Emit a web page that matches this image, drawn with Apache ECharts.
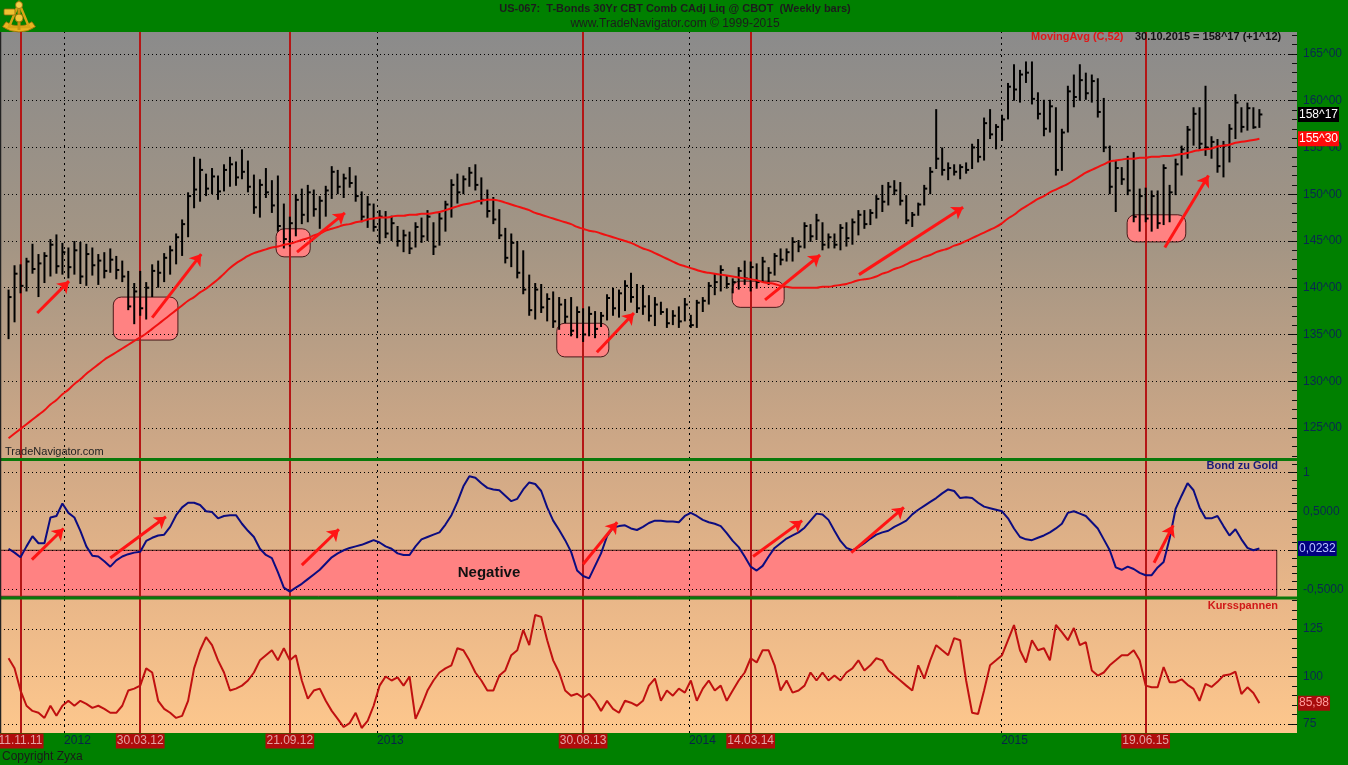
<!DOCTYPE html>
<html><head><meta charset="utf-8">
<script src="https://cdn.jsdelivr.net/npm/echarts@6/dist/echarts.min.js"></script>
<style>html,body{margin:0;padding:0;background:#008000}#c{width:1348px;height:765px}</style>
</head><body><div id="c"></div>
<script>
// ---------------- DATA (weekly bars, first bar Fri 28.10.2011) ----------------
const firstBar = '2011-10-28';
const high = [
139.8,142.4,142.5,143.2,144.7,143.6,143.8,145.2,145.7,144.8,
144.3,145.0,144.9,144.7,144.3,143.6,143.8,144.2,143.4,142.9,
141.8,140.5,141.8,140.6,142.5,142.9,143.7,144.5,145.8,147.3,
150.2,154.0,153.8,152.2,152.8,152.0,153.2,154.0,153.5,154.8,
153.6,152.1,151.6,152.8,151.5,152.0,149.0,147.6,150.0,150.6,
151.0,150.5,149.8,150.9,153.0,152.6,152.2,152.9,152.0,150.3,
149.8,149.0,148.3,148.2,147.7,146.6,146.2,146.0,147.0,147.5,
148.3,147.0,148.0,149.3,151.6,152.2,152.0,152.9,153.2,151.8,
150.5,149.7,148.4,146.4,145.8,145.0,144.0,141.4,140.5,140.4,
139.4,139.6,139.0,138.8,139.0,138.0,137.8,138.0,137.5,137.4,
139.3,140.0,139.8,140.8,141.6,140.4,140.3,139.2,139.0,138.5,
137.8,137.6,138.0,138.9,137.1,138.7,139.0,140.6,141.5,142.4,
141.3,141.0,142.2,142.9,142.8,142.6,143.3,142.2,143.7,144.2,
144.2,145.4,145.1,147.0,146.8,147.9,147.0,145.8,145.8,146.8,
147.0,147.4,148.3,148.3,148.4,149.9,151.0,151.3,151.5,151.3,
149.9,148.1,149.1,151.0,152.9,159.1,155.0,153.4,153.2,153.2,
153.4,155.4,155.9,158.2,159.1,157.5,158.5,161.9,163.9,163.3,
164.2,164.2,160.9,160.1,160.1,159.3,157.0,161.6,162.8,163.9,
163.0,162.8,162.4,160.3,155.2,153.6,152.9,154.1,154.5,150.6,
150.7,150.4,150.4,153.2,151.0,153.8,155.2,157.3,159.3,159.3,
161.6,156.2,155.9,155.7,157.5,160.7,159.3,159.8,159.3,159.1];
const low = [
134.5,136.3,139.4,139.6,141.5,139.0,140.5,141.2,141.5,141.4,
141.0,141.4,140.4,140.2,141.3,140.3,141.0,141.6,140.9,140.6,
137.6,136.1,137.0,136.6,139.0,140.0,140.6,141.4,142.5,143.4,
145.4,148.5,149.2,149.8,150.0,149.4,150.3,150.8,150.9,151.6,
150.2,147.9,147.5,149.6,148.0,146.0,144.2,144.4,145.5,146.8,
147.0,147.6,146.3,147.6,149.5,150.0,149.6,150.7,149.2,147.0,
146.4,146.0,144.7,145.3,145.0,144.4,143.8,143.6,144.3,144.8,
145.0,143.5,144.5,146.0,147.5,149.0,150.0,150.8,150.4,148.9,
147.5,146.8,145.2,142.6,142.2,141.0,139.3,137.0,136.6,137.3,
136.4,135.7,135.5,136.2,134.8,134.6,134.2,134.8,134.6,135.8,
136.5,137.0,136.8,137.5,138.4,137.3,137.1,136.4,135.9,137.1,
135.7,136.0,135.7,136.4,135.7,135.7,137.4,138.2,139.2,139.6,
139.9,139.4,139.8,140.3,139.6,139.9,140.6,140.3,141.3,142.4,
142.8,142.8,143.8,144.2,144.9,145.1,144.0,144.2,144.2,144.0,
144.4,144.6,145.6,146.3,146.7,147.4,148.1,148.8,149.9,148.8,
146.8,146.5,147.7,148.8,150.0,152.7,152.0,151.5,152.0,151.6,
152.2,152.7,153.4,153.6,155.9,154.8,155.7,158.0,160.0,159.8,
161.9,159.6,158.0,156.2,156.6,152.0,152.5,156.6,159.3,160.0,
160.1,159.8,158.2,154.5,150.0,148.1,151.0,149.9,147.0,146.0,
147.0,146.0,146.3,146.7,147.0,149.9,152.0,153.8,155.2,154.8,
154.1,153.8,152.3,151.8,153.4,155.9,156.6,156.8,157.0,157.1];
const close = [
139.0,141.5,140.2,142.8,142.0,142.6,143.4,144.6,142.3,143.8,
142.2,144.0,141.2,143.6,142.4,142.9,141.8,143.0,141.9,141.2,
138.0,139.6,137.8,140.0,141.8,141.6,143.2,144.0,145.4,146.8,
149.8,150.5,152.6,150.6,151.9,150.3,152.6,153.2,151.8,152.4,
150.8,148.6,151.0,150.2,148.8,146.6,145.2,146.9,149.4,147.8,
150.2,148.4,149.3,150.4,152.4,150.8,151.7,151.2,149.8,147.6,
148.9,146.5,147.6,145.8,146.9,145.0,145.6,144.2,146.5,145.5,
147.6,144.4,147.4,148.9,151.0,150.2,151.6,152.3,151.0,149.4,
148.2,147.3,145.6,143.2,144.8,141.6,139.8,137.6,139.8,137.9,
138.8,136.4,138.2,136.9,135.4,137.4,135.0,137.2,135.6,137.0,
138.9,137.8,139.4,140.2,139.0,137.8,138.0,137.0,138.2,137.4,
136.2,137.0,136.4,138.2,136.0,138.4,138.6,140.2,140.6,141.9,
140.4,140.6,141.8,141.0,142.2,140.6,142.8,141.6,143.4,143.0,
143.8,144.9,144.4,146.6,145.5,147.2,144.6,145.4,144.6,146.4,
145.3,147.0,147.8,146.8,148.0,149.5,149.2,150.8,150.4,149.3,
147.2,147.8,148.9,150.6,152.4,153.8,152.6,152.8,152.4,152.9,
152.6,155.0,154.0,157.6,156.4,157.2,158.0,161.5,161.2,162.8,
163.0,160.2,158.6,157.0,159.4,152.6,156.6,161.0,160.4,162.2,
160.8,162.1,158.8,155.0,150.8,152.8,151.6,150.4,147.6,149.8,
147.4,149.8,146.9,152.8,150.2,153.2,154.8,156.9,158.6,155.4,
155.0,155.6,153.0,155.2,157.0,159.8,157.2,159.2,157.16,158.53];
const ma52 = [
123.9,124.4,124.9,125.4,125.9,126.4,126.9,127.5,128.0,128.6,
129.1,129.7,130.2,130.8,131.3,131.8,132.3,132.7,133.1,133.5,
133.9,134.3,134.7,135.1,135.6,136.1,136.6,137.1,137.6,138.1,
138.6,139.0,139.5,139.9,140.4,140.9,141.5,142.1,142.6,143.0,
143.4,143.7,143.9,144.1,144.3,144.4,144.6,144.7,144.9,145.1,
145.3,145.6,145.8,146.1,146.3,146.5,146.7,146.8,147.0,147.1,
147.3,147.4,147.5,147.5,147.6,147.7,147.7,147.8,147.8,147.9,
147.9,148.0,148.1,148.3,148.5,148.7,148.9,149.0,149.2,149.3,
149.4,149.4,149.3,149.1,148.9,148.7,148.5,148.3,148.0,147.8,
147.6,147.4,147.2,147.0,146.8,146.5,146.3,146.1,146.0,145.8,
145.6,145.4,145.2,145.0,144.8,144.5,144.2,144.0,143.7,143.4,
143.1,142.8,142.5,142.3,142.1,141.9,141.7,141.6,141.5,141.4,
141.3,141.2,141.1,141.0,140.9,140.8,140.6,140.5,140.4,140.2,
140.1,140.0,140.0,140.0,140.0,140.0,140.1,140.1,140.2,140.3,
140.4,140.6,140.8,140.9,141.0,141.2,141.5,141.7,142.0,142.2,
142.5,142.8,143.0,143.3,143.5,143.8,144.0,144.2,144.5,144.7,
145.0,145.3,145.6,145.9,146.2,146.5,146.9,147.4,147.8,148.3,
148.7,149.1,149.5,149.8,150.2,150.5,150.8,151.1,151.5,151.9,
152.3,152.6,152.9,153.2,153.5,153.6,153.7,153.8,153.8,153.9,
153.9,154.0,154.0,154.1,154.1,154.2,154.3,154.4,154.6,154.7,
154.8,154.9,155.1,155.2,155.3,155.5,155.6,155.7,155.8,155.94];
const bondGold = [
0.02,-0.03,-0.09,0.05,0.18,0.09,0.09,0.42,0.44,0.60,
0.48,0.42,0.25,0.05,-0.07,-0.08,-0.14,-0.21,-0.13,-0.08,
-0.05,-0.03,-0.02,0.12,0.16,0.19,0.20,0.30,0.45,0.55,
0.61,0.61,0.58,0.50,0.49,0.41,0.44,0.45,0.45,0.34,
0.25,0.17,0.02,-0.06,-0.10,-0.28,-0.48,-0.53,-0.48,-0.43,
-0.37,-0.31,-0.25,-0.17,-0.09,-0.04,0.00,0.03,0.05,0.07,
0.10,0.13,0.10,0.05,0.02,-0.04,-0.06,-0.06,0.05,0.14,
0.17,0.20,0.23,0.33,0.45,0.62,0.82,0.95,0.93,0.86,
0.80,0.78,0.77,0.70,0.63,0.66,0.78,0.87,0.85,0.76,
0.55,0.38,0.26,0.13,-0.02,-0.26,-0.33,-0.36,-0.20,-0.04,
0.18,0.29,0.31,0.32,0.28,0.26,0.30,0.35,0.38,0.38,
0.37,0.37,0.36,0.44,0.48,0.44,0.39,0.36,0.34,0.31,
0.22,0.12,0.04,-0.08,-0.21,-0.26,-0.20,-0.08,0.03,0.09,
0.15,0.19,0.23,0.29,0.38,0.47,0.46,0.39,0.25,0.12,
0.03,0.00,0.04,0.09,0.15,0.20,0.23,0.25,0.30,0.34,
0.38,0.46,0.52,0.57,0.62,0.67,0.73,0.78,0.76,0.67,
0.68,0.67,0.61,0.56,0.54,0.52,0.50,0.41,0.28,0.17,
0.14,0.13,0.16,0.19,0.23,0.28,0.34,0.48,0.50,0.47,
0.44,0.36,0.28,0.14,0.00,-0.22,-0.25,-0.21,-0.24,-0.29,
-0.32,-0.32,-0.22,-0.15,0.15,0.53,0.70,0.86,0.77,0.55,
0.41,0.41,0.44,0.31,0.19,0.27,0.14,0.03,0.00,0.0232];
const kursspannen = [
109.6,104.3,92.6,84.6,81.9,80.9,78.2,84.6,79.3,84.6,
87.2,84.6,87.2,85.6,83.5,84.6,83.0,80.9,80.9,84.6,
92.6,93.6,95.2,104.3,102.1,87.2,83.0,80.9,78.2,79.3,
87.2,104.3,113.8,120.7,116.5,108.5,102.1,92.6,93.6,95.2,
97.9,102.1,108.5,111.2,113.8,108.5,114.9,108.5,111.2,97.9,
88.3,92.6,93.6,87.2,81.9,77.7,73.4,75.5,80.9,72.9,
76.6,84.6,95.2,100.0,97.9,99.5,95.2,100.0,77.7,84.6,
92.6,97.9,102.1,104.3,105.9,114.9,113.8,108.5,102.1,97.9,
92.6,92.6,100.5,103.2,111.2,113.8,124.5,116.5,132.4,131.4,
119.1,108.5,102.1,92.6,89.9,90.9,88.8,90.9,87.2,81.9,
87.2,83.0,80.9,87.2,86.2,84.6,87.2,95.2,98.9,87.2,
92.6,89.9,93.6,91.5,97.9,87.2,93.6,97.9,92.6,95.2,
87.2,92.6,97.9,102.1,109.6,107.4,113.8,113.8,105.9,92.6,
97.9,91.5,92.6,95.2,102.1,97.9,102.1,97.9,100.5,97.9,
102.1,104.3,108.5,103.2,105.9,109.6,108.5,103.2,100.5,97.9,
95.2,92.6,105.9,98.9,108.5,116.5,113.8,111.2,120.2,119.1,
97.9,80.9,80.3,92.6,105.9,108.5,111.2,119.1,127.1,113.8,
107.4,119.1,113.8,114.9,108.5,127.1,123.4,119.1,125.5,116.5,
118.1,103.2,100.5,102.1,105.9,108.5,111.2,111.2,113.8,108.5,
95.2,94.3,94.3,105.0,97.0,97.0,98.5,95.6,93.5,87.2,
96.1,94.5,97.2,100.5,101.0,102.5,90.8,94.3,91.3,85.98];

const eventDates  = ['2011-11-11','2012-03-30','2012-09-21','2013-08-30','2014-03-14','2015-06-19'];
const eventLabels = ['11.11.11','30.03.12','21.09.12','30.08.13','14.03.14','19.06.15'];
const yearDates   = ['2012-01-01','2013-01-01','2014-01-01','2015-01-01'];
const yearLabels  = ['2012','2013','2014','2015'];
const priceTicks  = [125,130,135,140,145,150,155,160,165];
const bgTicks     = [1,0.5,0,-0.5];
const bgLabels    = [1,0.5,-0.5];
const ksTicks     = [125,100,75];
// annotations in (week index, value) units
const priceBoxes  = [[17.5,28.3,139.0,134.4],[44.7,50.4,146.3,143.3],[91.6,100.3,136.2,132.6],[120.9,129.6,140.7,137.9],[186.9,196.7,147.8,144.9]];
const priceArrows = [[4.8,137.3,10.1,140.7],[24.0,136.8,32.2,143.6],[48.2,143.8,56.2,148.0],[98.3,133.1,104.5,137.3],[126.4,138.7,135.6,143.5],[142.1,141.4,159.5,148.6],[193.2,144.3,200.5,152.0]];
const bgArrows    = [[3.9,-0.12,9.2,0.28],[17.0,-0.10,26.3,0.43],[49.0,-0.19,55.2,0.27],[96.0,-0.18,101.7,0.36],[124.4,-0.08,132.6,0.38],[140.8,-0.03,149.6,0.55],[191.4,-0.16,194.6,0.32]];
const negativeBox = [-1.9,211.9,0,-0.59];

// ---------------- helpers ----------------
const DAY = 864e5;
function toTime(s){const p=s.split('-').map(Number);return new Date(p[0],p[1]-1,p[2]).getTime();}
const t0 = toTime(firstBar);
const wt = k => t0 + k*7*DAY;
const N = close.length;
function fmt32(v){const f=Math.floor(v);let n=Math.round((v-f)*32);return f+'^'+String(n).padStart(2,'0');}
function fmtDec(v,d){return v.toFixed(d).replace('.',',');}
const XMIN = toTime('2011-10-18'), XMAX = toTime('2015-12-13');
const FONT = 'Arial, "Liberation Sans", sans-serif';
const bgGrad = {type:'linear',x:0,y:32,x2:0,y2:733,global:true,colorStops:[
  {offset:0,color:'#8b8b8b'},{offset:0.3,color:'#a39584'},{offset:0.6,color:'#cfa886'},{offset:0.8,color:'#e8b688'},{offset:1,color:'#fdc78d'}]};

const GRIDS = [{top:32,bottom:459},{top:461,bottom:598},{top:599,bottom:733}];
// value ranges matching the pixel layout of the panels
const YR = [{min:121.68,max:167.35},{min:-0.612,max:1.145},{min:70.26,max:140.79}];

function range(a,b,s){const r=[];for(let v=a;v<=b+1e-9;v+=s)r.push(+v.toFixed(4));return r;}

const xAxes = GRIDS.map((g,i)=>({type:'time',gridIndex:i,min:XMIN,max:XMAX,show:false,splitLine:{show:false}}));
function yPair(gi, ticks, labels, fmt, minor){
  const base = {type:'value',gridIndex:gi,position:'right',min:YR[gi].min,max:YR[gi].max,
    axisLine:{show:false},splitLine:{show:false},scale:true};
  return [
    Object.assign({},base,{axisTick:{show:true,inside:true,length:9,customValues:ticks,lineStyle:{color:'#111',width:1}},
      axisLabel:{show:true,customValues:labels,formatter:fmt,color:'#0a2850',fontSize:12,fontFamily:FONT,margin:6}}),
    Object.assign({},base,{axisTick:{show:true,inside:true,length:5,customValues:minor,lineStyle:{color:'#111',width:1}},
      axisLabel:{show:false}})
  ];
}
const yAxes = [].concat(
  yPair(0, priceTicks, priceTicks, v=>fmt32(v), range(122,167,1)),
  yPair(1, bgTicks, bgLabels, v=>(v===1?'1':fmtDec(v,4)), range(-0.6,1.1,0.1)),
  yPair(2, ksTicks, ksTicks, v=>String(v), range(70,140,5))
);

function gridLines(gi, vals){
  return {type:'line',xAxisIndex:gi,yAxisIndex:gi*2,data:[],z:1,silent:true,
    markLine:{silent:true,symbol:['none','none'],label:{show:false},animation:false,
      lineStyle:{type:[1,3],color:'#000',width:1},data:vals.map(v=>({yAxis:v}))}};
}
function vertLines(gi){
  const d = yearDates.map(s=>({xAxis:toTime(s),lineStyle:{type:[2,4],color:'#000',width:1}}))
    .concat(eventDates.map(s=>({xAxis:toTime(s),lineStyle:{type:'solid',color:'#b41616',width:2}})));
  return {type:'line',xAxisIndex:gi,yAxisIndex:gi*2,data:[],z:4,silent:true,
    markLine:{silent:true,symbol:['none','none'],label:{show:false},animation:false,data:d}};
}
function boxSeries(gi, boxes, r){
  return {type:'custom',xAxisIndex:gi,yAxisIndex:gi*2,z:2,silent:true,encode:{x:[0,1],y:[2,3]},
    data:boxes.map(b=>[wt(b[0]),wt(b[1]),b[2],b[3]]),
    renderItem:(p,api)=>{const a=api.coord([api.value(0),api.value(2)]),b=api.coord([api.value(1),api.value(3)]);
      return {type:'rect',shape:{x:a[0],y:a[1],width:b[0]-a[0],height:b[1]-a[1],r:r},
        style:{fill:'#ff8282',stroke:'#4a1a1a',lineWidth:1}};}};
}
function arrowSeries(gi, arr){
  return {type:'lines',coordinateSystem:'cartesian2d',xAxisIndex:gi,yAxisIndex:gi*2,z:8,silent:true,
    symbol:['none','arrow'],symbolSize:[0,11],lineStyle:{color:'#ff1414',width:3,opacity:1,curveness:0},
    data:arr.map(a=>({coords:[[wt(a[0]),a[1]],[wt(a[2]),a[3]]]}))};
}

const ohlc = close.map((c,i)=>[wt(i),high[i],low[i],c]);
const series = [
  gridLines(0, priceTicks), vertLines(0), boxSeries(0, priceBoxes, 8),
  {type:'custom',xAxisIndex:0,yAxisIndex:0,z:5,silent:true,encode:{x:0,y:[1,2,3]},data:ohlc,
    renderItem:(p,api)=>{const x=api.value(0);const h=api.coord([x,api.value(1)]),l=api.coord([x,api.value(2)]),c=api.coord([x,api.value(3)]);
      return {type:'group',children:[
        {type:'line',shape:{x1:h[0],y1:h[1],x2:l[0],y2:l[1]},style:{stroke:'#000',lineWidth:2}},
        {type:'line',shape:{x1:c[0],y1:c[1],x2:c[0]+3,y2:c[1]},style:{stroke:'#000',lineWidth:2}}]};}},
  {type:'line',xAxisIndex:0,yAxisIndex:0,z:6,silent:true,symbol:'none',smooth:true,
    data:ma52.map((v,i)=>[wt(i),v]),lineStyle:{color:'#f01010',width:2}},
  arrowSeries(0, priceArrows),

  gridLines(1, bgTicks), boxSeries(1, [negativeBox], 0), vertLines(1),
  {type:'line',xAxisIndex:1,yAxisIndex:2,z:6,silent:true,symbol:'none',
    data:bondGold.map((v,i)=>[wt(i),v]),lineStyle:{color:'#0c0c80',width:2}},
  arrowSeries(1, bgArrows),

  gridLines(2, ksTicks), vertLines(2),
  {type:'line',xAxisIndex:2,yAxisIndex:4,z:6,silent:true,symbol:'none',
    data:kursspannen.map((v,i)=>[wt(i),v]),lineStyle:{color:'#c01010',width:2}}
];

const chart = echarts.init(document.getElementById('c'), null, {width:1348,height:765});
chart.setOption({
  animation:false,
  backgroundColor:'#008000',
  grid: GRIDS.map(g=>({left:0,right:51,top:g.top,height:g.bottom-g.top,show:true,backgroundColor:bgGrad,borderWidth:0})),
  xAxis: xAxes, yAxis: yAxes, series: series
});

// ---------------- graphics (texts / tags), positioned through the axes ----------------
const G = [];
function txt(x,y,text,font,fill,align,extra){G.push({type:'text',x:x,y:y,z:100,silent:true,
  style:Object.assign({text:text,font:font,fill:fill,align:align||'left',verticalAlign:'middle'},extra||{})});}
// separators and left border
G.push({type:'rect',z:90,silent:true,shape:{x:0,y:458,width:1297,height:3},style:{fill:'#0a780a'}});
G.push({type:'rect',z:90,silent:true,shape:{x:0,y:596.5,width:1297,height:3},style:{fill:'#0a780a'}});
G.push({type:'line',z:90,silent:true,shape:{x1:0.5,y1:32,x2:0.5,y2:733},style:{stroke:'#222',lineWidth:1.5}});
// title
txt(675,9,'US-067:  T-Bonds 30Yr CBT Comb CAdj Liq @ CBOT  (Weekly bars)','bold 11px '+FONT,'#1c1c1c','center');
txt(675,24,'www.TradeNavigator.com \u00a9 1999-2015','12px '+FONT,'#1c1c1c','center');
// logo (simplified golden sextant)
G.push({type:'group',z:100,silent:true,children:[
  {type:'sector',shape:{cx:19,cy:4,r0:22,r:28,startAngle:Math.PI*0.30,endAngle:Math.PI*0.70},style:{fill:'#e8b420',stroke:'#9a6a08',lineWidth:0.8}},
  {type:'polygon',shape:{points:[[19,3],[9,27],[29,27]]},style:{fill:null,stroke:'#d8a414',lineWidth:2.5}},
  {type:'line',shape:{x1:19,y1:3,x2:19,y2:30},style:{stroke:'#c89410',lineWidth:3}},
  {type:'rect',shape:{x:4,y:9,width:11,height:6,r:1},style:{fill:'#efc232',stroke:'#9a6a08',lineWidth:0.8}},
  {type:'circle',shape:{cx:19,cy:5,r:3.5},style:{fill:'#f4d04a',stroke:'#9a6a08',lineWidth:0.8}},
  {type:'circle',shape:{cx:19,cy:18,r:4},style:{fill:'#f0c83a',stroke:'#9a6a08',lineWidth:0.8}}
]});
// panel legends
const lastDate = new Date(wt(N-1));
const dstr = String(lastDate.getDate()).padStart(2,'0')+'.'+String(lastDate.getMonth()+1).padStart(2,'0')+'.'+lastDate.getFullYear();
txt(1031,37,'MovingAvg (C,52)','bold 11px '+FONT,'#e01818','left');
txt(1135,37,dstr+' = '+fmt32(close[N-1])+' (+'+fmt32(close[N-1]-close[N-2])+')','bold 11px '+FONT,'#111','left');
txt(1278,466,'Bond zu Gold','bold 11px '+FONT,'#1a1a7a','right');
txt(1278,606,'Kursspannen','bold 11px '+FONT,'#d01818','right');
txt(5,452,'TradeNavigator.com','11px '+FONT,'#222','left');
txt(2,757,'Copyright Zyxa','12px '+FONT,'#1a1a1a','left');
// "Negative" label centred in the negative box
const nb = chart.convertToPixel({xAxisIndex:1,yAxisIndex:2},[wt((negativeBox[0]+negativeBox[1])/2),(negativeBox[2]+negativeBox[3])/2]);
txt(489,nb[1],'Negative','bold 15px '+FONT,'#111','center');
// bottom date labels
yearDates.forEach((s,i)=>{const x=chart.convertToPixel({xAxisIndex:2},toTime(s));txt(x,741,yearLabels[i],'12px '+FONT,'#082448','left');});
eventDates.forEach((s,i)=>{const x=chart.convertToPixel({xAxisIndex:2},toTime(s));
  txt(x,741,eventLabels[i],'12px '+FONT,'#e2a4a4','center',{backgroundColor:'#b00c0c',padding:[2,1,1,1]});});
// value tags on the right axis
function tag(ai,v,text,bg,fg){const y=chart.convertToPixel({yAxisIndex:ai},v);
  txt(1298,y,text,'12px '+FONT,fg,'left',{backgroundColor:bg,padding:[2,1,1,1]});}
tag(0,close[N-1],fmt32(close[N-1]),'#000','#fff');
tag(0,ma52[N-1],fmt32(ma52[N-1]),'#ff0a0a','#fff');
tag(2,bondGold[N-1],fmtDec(bondGold[N-1],4),'#000080','#b8c0ff');
tag(4,kursspannen[N-1],fmtDec(kursspannen[N-1],2),'#a80c0c','#ff9c9c');
chart.setOption({graphic:G});
</script></body></html>
